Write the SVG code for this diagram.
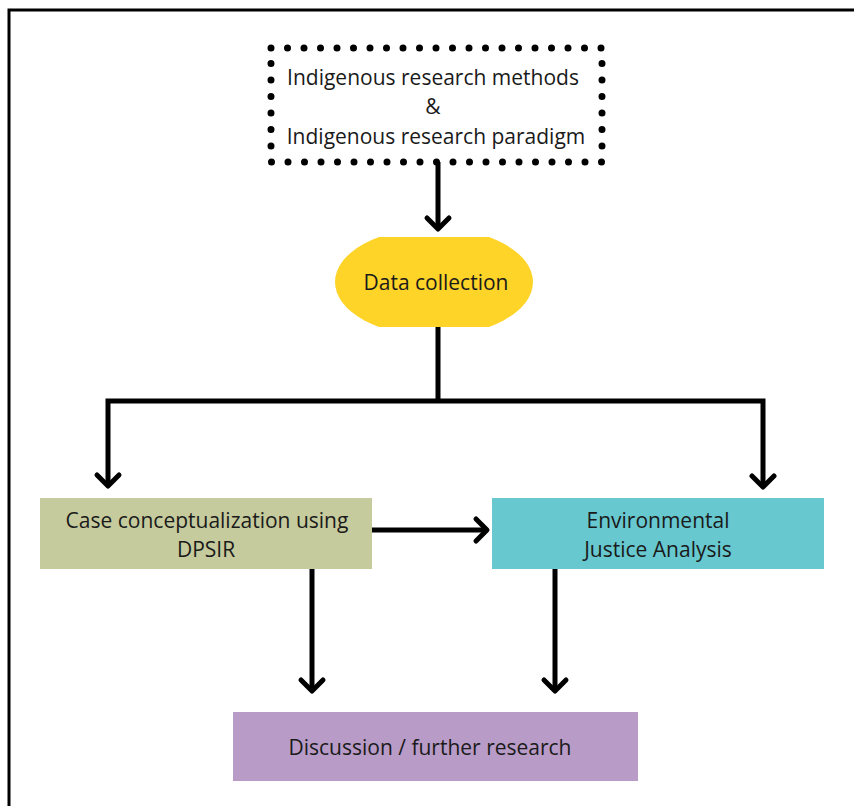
<svg xmlns="http://www.w3.org/2000/svg" width="854" height="806" viewBox="0 0 854 806">
<defs>
<style>
.t{font-family:"Open Sans","Liberation Sans",sans-serif;font-size:21px;fill:#1a1a1a;text-anchor:middle}
.c{fill:none;stroke:#000;stroke-width:5}
.h{fill:none;stroke:#000;stroke-width:5;stroke-linecap:round;stroke-linejoin:round}
</style>
<clipPath id="ec"><rect x="320" y="237" width="230" height="90"/></clipPath>
</defs>
<rect width="854" height="806" fill="#fff"/>
<rect x="9" y="10" width="900" height="900" fill="none" stroke="#000" stroke-width="3"/>
<g id="n1">
<rect x="271" y="48" width="331" height="114" fill="none" stroke="#000" stroke-width="7" stroke-linecap="round" stroke-dasharray="0 16.5"/>
<text class="t" x="433" y="85">Indigenous research methods</text>
<text class="t" x="433" y="114">&amp;</text>
<text class="t" x="436" y="144">Indigenous research paradigm</text>
</g>
<g id="n2">
<ellipse cx="434" cy="282" rx="99" ry="54" fill="#fed428" clip-path="url(#ec)"/>
<text class="t" x="436" y="290">Data collection</text>
</g>
<g id="n3">
<rect x="40" y="498" width="332" height="71" fill="#c5cb9d"/>
<text class="t" x="207" y="528">Case conceptualization using</text>
<text class="t" x="206" y="557">DPSIR</text>
</g>
<g id="n4">
<rect x="492" y="498" width="332" height="71" fill="#67c8cf"/>
<text class="t" x="658" y="528">Environmental</text>
<text class="t" x="658" y="557">Justice Analysis</text>
</g>
<g id="n5">
<rect x="233" y="712" width="405" height="69" fill="#b89bc7"/>
<text class="t" x="430" y="755">Discussion / further research</text>
</g>
<g id="connectors">
<path class="c" d="M438 162V228"/>
<path class="h" d="M427 218L438 229L449 218"/>
<path class="c" d="M438 327V401M108 486V401H763V487"/>
<path class="h" d="M97 475L108 486L119 475"/>
<path class="h" d="M752 476L763 487L774 476"/>
<path class="c" d="M372 530H487"/>
<path class="h" d="M476 519L487 530L476 541"/>
<path class="c" d="M312 569V691"/>
<path class="h" d="M301 680L312 691L323 680"/>
<path class="c" d="M555 569V691"/>
<path class="h" d="M544 680L555 691L566 680"/>
</g>
</svg>
